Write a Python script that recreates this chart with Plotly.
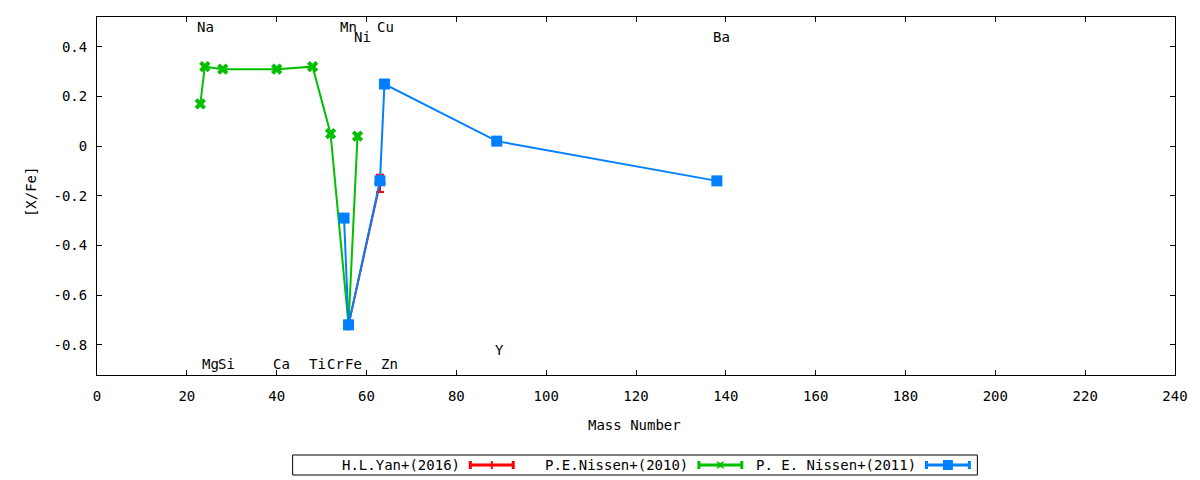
import plotly.graph_objects as go

# H.L.Yan+(2016)
yan_mass = [56, 63]
yan_xfe = [-0.72, -0.15]
yan_err = [0.0, 0.035]

# P.E.Nissen+(2010)
nissen10_mass = [23, 24, 28, 40, 48, 52, 56, 58]
nissen10_xfe = [0.17, 0.32, 0.31, 0.31, 0.32, 0.05, -0.72, 0.04]

# P. E. Nissen+(2011)
nissen11_mass = [55, 56, 63, 64, 89, 138]
nissen11_xfe = [-0.29, -0.72, -0.14, 0.25, 0.02, -0.14]

# element name labels
elem_names = ["Na", "Mn", "Cu", "Ni", "Ba",
              "Mg", "Si", "Ca", "Ti", "Cr", "Fe", "Zn", "Y"]
elem_x = [24.1, 56.0, 64.2, 59.1, 139.0,
          25.2, 28.8, 41.1, 49.2, 53.0, 57.0, 65.1, 89.5]
elem_y = [0.478, 0.478, 0.478, 0.438, 0.438,
          -0.877, -0.877, -0.877, -0.877, -0.877, -0.877, -0.877, -0.82]

x_ticks = [0, 20, 40, 60, 80, 100, 120, 140, 160, 180, 200, 220, 240]
y_ticks = [-0.8, -0.6, -0.4, -0.2, 0, 0.2, 0.4]
y_ticktext = ["-0.8", "-0.6", "-0.4", "-0.2", "0", "0.2", "0.4"]

RED = "#ff0000"
GREEN = "#00c000"
BLUE = "#0080ff"
FONT = "DejaVu Sans Mono"
FSIZE = 14

fig = go.Figure()

fig.add_trace(go.Scatter(
    x=yan_mass, y=yan_xfe, mode="lines+markers", name="H.L.Yan+(2016)",
    line=dict(color=RED, width=2),
    marker=dict(symbol="cross-thin", size=8, line=dict(color=RED, width=2)),
    error_y=dict(type="data", array=yan_err, color=RED, thickness=2, width=4),
))
fig.add_trace(go.Scatter(
    x=nissen10_mass, y=nissen10_xfe, mode="lines+markers", name="P.E.Nissen+(2010)",
    line=dict(color=GREEN, width=2),
    marker=dict(symbol="x", size=10, color=GREEN, line=dict(width=0)),
))
fig.add_trace(go.Scatter(
    x=nissen11_mass, y=nissen11_xfe, mode="lines+markers", name="P. E. Nissen+(2011)",
    line=dict(color=BLUE, width=2),
    marker=dict(symbol="square", size=11, color=BLUE, line=dict(width=0)),
))

for name, xx, yy in zip(elem_names, elem_x, elem_y):
    fig.add_annotation(x=xx, y=yy, text=name, showarrow=False,
                       xanchor="center", yanchor="middle",
                       font=dict(family=FONT, size=FSIZE, color="black"))

# plot area in pixels: x 97..1177, y 17..375
def px(xp):
    return (xp - 97) / 1080

def py(yp):
    return (375 - yp) / 358

# axis titles
fig.add_annotation(x=px(635), y=py(425), xref="paper", yref="paper", text="Mass Number",
                   showarrow=False, xanchor="center", yanchor="middle",
                   font=dict(family=FONT, size=FSIZE, color="black"))
fig.add_annotation(x=px(31), y=py(192), xref="paper", yref="paper", text="[X/Fe]",
                   showarrow=False, textangle=-90, xanchor="center", yanchor="middle",
                   font=dict(family=FONT, size=FSIZE, color="black"))

# gnuplot-style legend box below the plot
fig.add_shape(type="rect", xref="paper", yref="paper",
              x0=px(293), x1=px(979), y0=py(475), y1=py(455),
              line=dict(color="black", width=1))
legend_items = [("H.L.Yan+(2016)", RED, 463, 471, 514),
                ("P.E.Nissen+(2010)", GREEN, 691, 700, 743),
                ("P. E. Nissen+(2011)", BLUE, 920, 928, 971)]
ly = 465
for label, col, tx, x0, x1 in legend_items:
    fig.add_annotation(x=px(tx), y=py(ly), xref="paper", yref="paper", text=label,
                       showarrow=False, xanchor="right", yanchor="middle",
                       font=dict(family=FONT, size=FSIZE, color="black"))
    fig.add_shape(type="line", xref="paper", yref="paper",
                  x0=px(x0), x1=px(x1), y0=py(ly), y1=py(ly), line=dict(color=col, width=3))
    for xc in (x0, x1):
        fig.add_shape(type="line", xref="paper", yref="paper",
                      x0=px(xc), x1=px(xc), y0=py(ly - 4), y1=py(ly + 4),
                      line=dict(color=col, width=3))
    xm = (x0 + x1) / 2
    if col == RED:
        fig.add_shape(type="line", xref="paper", yref="paper",
                      x0=px(xm), x1=px(xm), y0=py(ly - 4), y1=py(ly + 4),
                      line=dict(color=col, width=2))
    elif col == GREEN:
        fig.add_shape(type="path", xref="paper", yref="paper",
                      path=(f"M {px(xm-4)} {py(ly-4)} L {px(xm)} {py(ly-2)} L {px(xm+4)} {py(ly-4)} "
                            f"L {px(xm+2)} {py(ly)} L {px(xm+4)} {py(ly+4)} L {px(xm)} {py(ly+2)} "
                            f"L {px(xm-4)} {py(ly+4)} L {px(xm-2)} {py(ly)} Z"),
                      fillcolor=col, line=dict(width=0))
    else:
        fig.add_shape(type="rect", xref="paper", yref="paper",
                      x0=px(xm - 5), x1=px(xm + 5), y0=py(ly + 5), y1=py(ly - 5),
                      fillcolor=col, line=dict(width=0))

axis_common = dict(showgrid=False, zeroline=False, showline=True, linecolor="black",
                   linewidth=1, mirror="ticks", ticks="inside", ticklen=5,
                   tickcolor="black", tickfont=dict(family=FONT, size=FSIZE, color="black"))

fig.update_xaxes(range=[0, 240], tickvals=x_ticks, ticklabelstandoff=8, **axis_common)
fig.update_yaxes(range=[-0.922, 0.52], tickvals=y_ticks, ticktext=y_ticktext,
                 ticklabelstandoff=6, **axis_common)

fig.update_layout(
    width=1200, height=480,
    margin=dict(l=97, r=23, t=17, b=105),
    plot_bgcolor="white", paper_bgcolor="white",
    showlegend=False,
    font=dict(family=FONT, size=FSIZE, color="black"),
)

# drop the browser's default body margin so the figure sits at the page origin
fig.write_html("out.html", config={"displayModeBar": False},
               post_script="document.body.style.margin='0';")
